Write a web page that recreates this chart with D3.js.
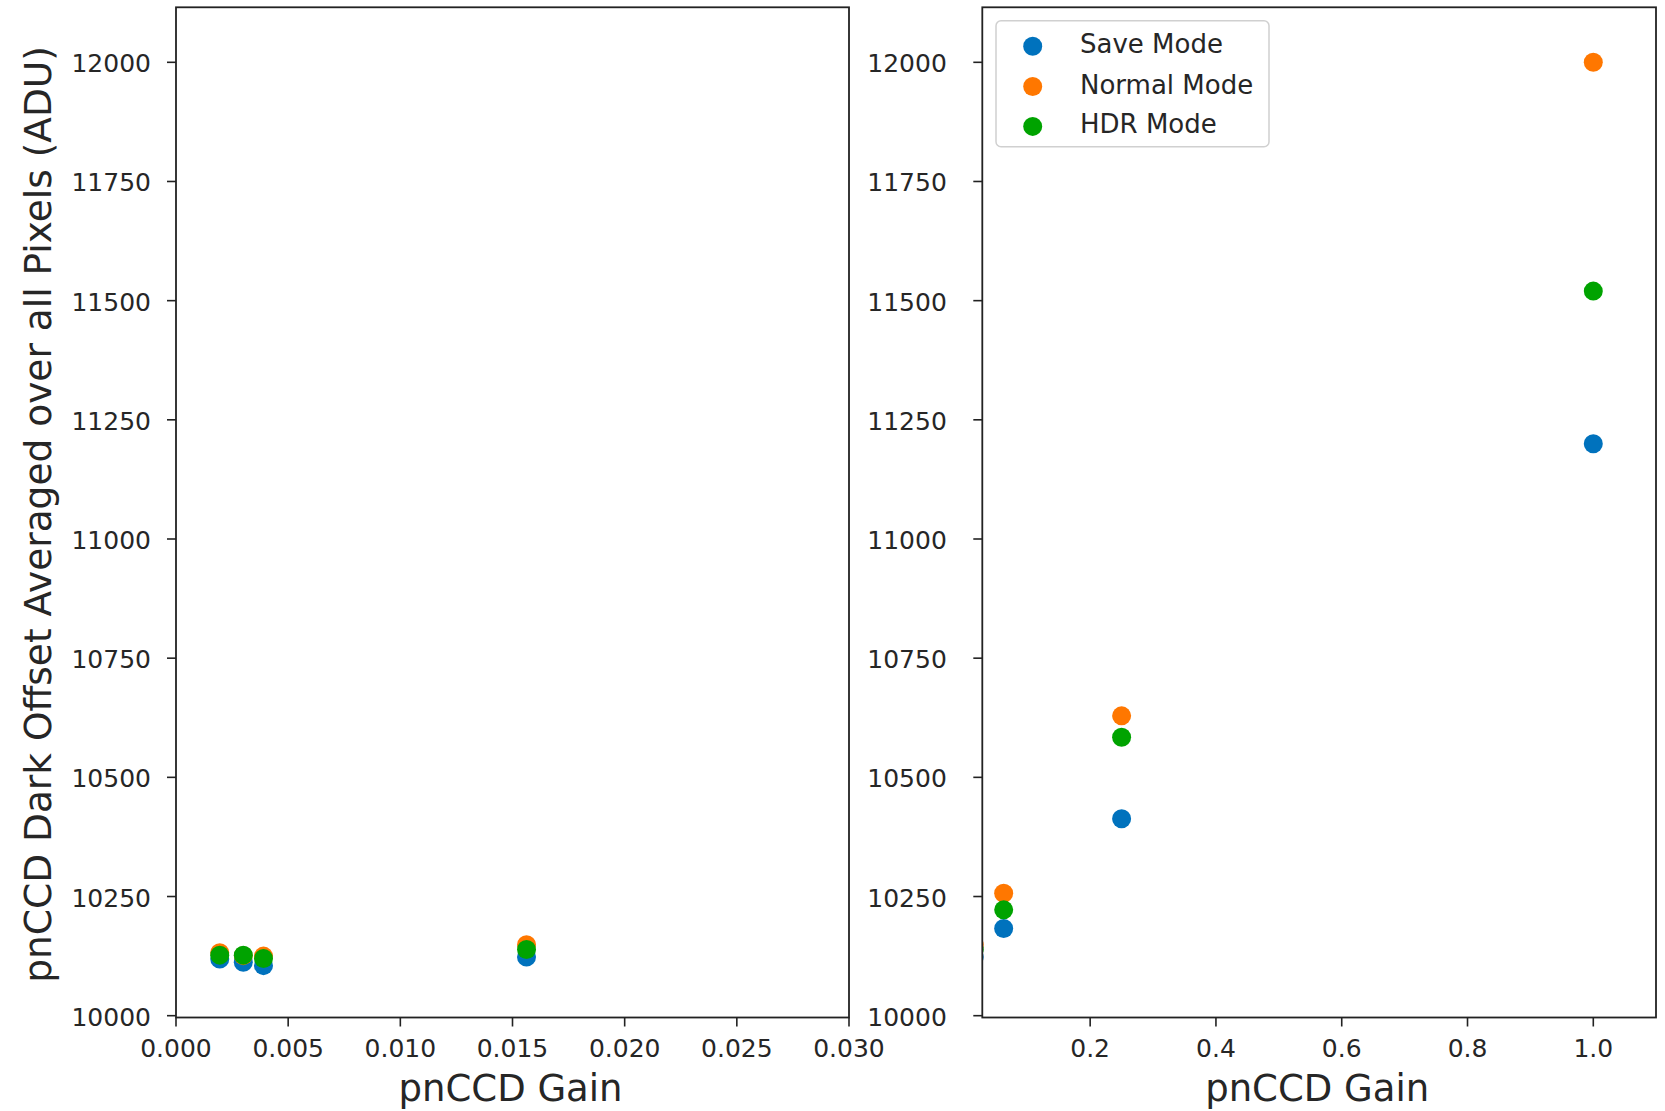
<!DOCTYPE html>
<html>
<head>
<meta charset="utf-8">
<script src="https://cdn.jsdelivr.net/npm/d3@7"></script>
<style>
  body { margin: 0; background: #fff; }
  svg { display: block; font-family: "DejaVu Sans", sans-serif; }
</style>
</head>
<body>
<svg id="chart"></svg>
<script>
// data
const gains = [0.00195, 0.003, 0.0039, 0.015625, 0.0625, 0.25, 1.0];
const saveMode = [10119, 10112, 10105, 10123, 10183, 10413, 11200];
const normalMode = [10132, 10126, 10125, 10149, 10257, 10629, 12000];
const hdrMode = [10127, 10127, 10120, 10139, 10222, 10584, 11520];

const seriesNames = ['Save Mode', 'Normal Mode', 'HDR Mode'];
const seriesColors = ['#0072bd', '#ff7700', '#00a300'];
const yTicks = [10000, 10250, 10500, 10750, 11000, 11250, 11500, 11750, 12000];
const xTicksLeft = [0, 0.005, 0.010, 0.015, 0.020, 0.025, 0.030];
const xTicksRight = [0.2, 0.4, 0.6, 0.8, 1.0];

const W = 1665, H = 1111;
const svg = d3.select('#chart').attr('width', W).attr('height', H);
svg.append('rect').attr('width', W).attr('height', H).attr('fill', '#fff');

const plotTop = 7.3, plotBottom = 1017.5;
const y = d3.scaleLinear().domain([9996.2, 12115.4]).range([plotBottom, plotTop]);

const panels = [
  { id: 'l', x0: 176, x1: 849, domain: [0, 0.03], ticks: xTicksLeft, fmt: d3.format('.3f'), labOff: 25 },
  { id: 'r', x0: 982.3, x1: 1656, domain: [0.0285, 1.0997], ticks: xTicksRight, fmt: d3.format('.1f'), labOff: 35.5 }
];

const series = [saveMode, normalMode, hdrMode];

panels.forEach(p => {
  const x = d3.scaleLinear().domain(p.domain).range([p.x0, p.x1]);
  const g = svg.append('g');

  g.append('clipPath').attr('id', 'clip-' + p.id)
    .append('rect').attr('x', p.x0).attr('y', plotTop).attr('width', p.x1 - p.x0).attr('height', plotBottom - plotTop);

  // points, save first so hdr ends on top
  const pts = g.append('g').attr('clip-path', `url(#clip-${p.id})`);
  series.forEach((vals, si) => {
    pts.selectAll(null)
      .data(gains.map((gv, i) => ({ g: gv, v: vals[i] })))
      .enter()
      .append('circle')
      .attr('cx', d => x(d.g))
      .attr('cy', d => y(d.v))
      .attr('r', 9.5)
      .attr('fill', seriesColors[si]);
  });

  // frame
  g.append('rect')
    .attr('x', p.x0).attr('y', plotTop)
    .attr('width', p.x1 - p.x0).attr('height', plotBottom - plotTop)
    .attr('fill', 'none').attr('stroke', '#222').attr('stroke-width', 1.8);

  // y ticks
  const yt = g.selectAll('.yt').data(yTicks).enter().append('g');
  yt.append('line')
    .attr('x1', p.x0 - 9).attr('x2', p.x0)
    .attr('y1', d => y(d)).attr('y2', d => y(d))
    .attr('stroke', '#222').attr('stroke-width', 1.6);
  yt.append('text')
    .attr('x', p.x0 - p.labOff)
    .attr('y', d => y(d) + 10)
    .attr('text-anchor', 'end')
    .attr('font-size', 25)
    .attr('fill', '#262626')
    .text(d => d);

  // x ticks
  const xt = g.selectAll('.xt').data(p.ticks).enter().append('g');
  xt.append('line')
    .attr('x1', d => x(d)).attr('x2', d => x(d))
    .attr('y1', plotBottom).attr('y2', plotBottom + 9)
    .attr('stroke', '#222').attr('stroke-width', 1.6);
  xt.append('text')
    .attr('x', d => x(d))
    .attr('y', 1057)
    .attr('text-anchor', 'middle')
    .attr('font-size', 25)
    .attr('fill', '#262626')
    .text(d => p.fmt(d));

  g.append('text')
    .attr('x', (p.x0 + p.x1) / 2 - 2)
    .attr('y', 1101)
    .attr('text-anchor', 'middle')
    .attr('font-size', 37)
    .attr('fill', '#262626')
    .text('pnCCD Gain');
});

// y axis title
svg.append('text')
  .attr('transform', `translate(51,${(plotTop + plotBottom) / 2 + 2}) rotate(-90)`)
  .attr('text-anchor', 'middle')
  .attr('font-size', 37.5)
  .attr('fill', '#262626')
  .text('pnCCD Dark Offset Averaged over all Pixels (ADU)');

// legend
const leg = svg.append('g');
leg.append('rect')
  .attr('x', 996).attr('y', 20.7).attr('width', 273).attr('height', 126)
  .attr('rx', 5)
  .attr('fill', 'rgba(255,255,255,0.8)')
  .attr('stroke', '#d0d0d0').attr('stroke-width', 1.5);
const legRows = [46.2, 86.5, 126.4];
seriesNames.forEach((name, i) => {
  leg.append('circle').attr('cx', 1032.7).attr('cy', legRows[i]).attr('r', 9.5).attr('fill', seriesColors[i]);
  leg.append('text')
    .attr('x', 1080)
    .attr('y', legRows[i] + 7)
    .attr('font-size', 26)
    .attr('fill', '#262626')
    .text(name);
});
</script>
</body>
</html>
